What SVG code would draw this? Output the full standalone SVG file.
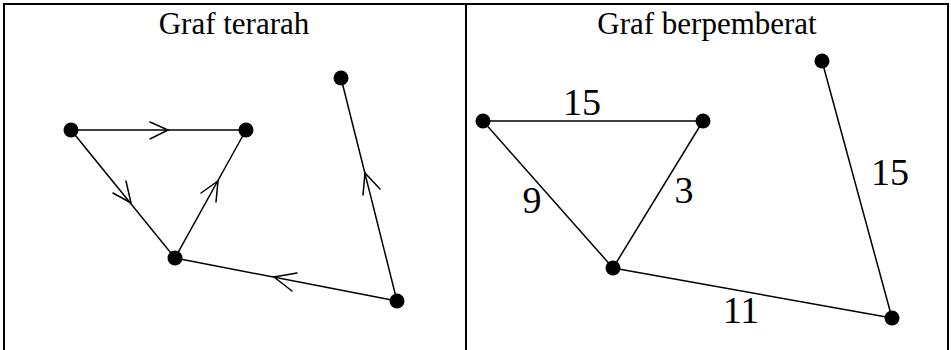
<svg xmlns="http://www.w3.org/2000/svg" width="951" height="350" viewBox="0 0 951 350">
<style>
.border{stroke:#000;stroke-width:2;fill:none}
.edge{stroke:#000;stroke-width:1.5;fill:none}
.chev{stroke:#000;stroke-width:1.5;fill:none;stroke-linecap:round;stroke-linejoin:miter}
.node{fill:#000}
.title{font-family:"Liberation Serif","Times New Roman",serif;font-size:31px;fill:#000;text-anchor:middle}
.lbl{font-family:"Liberation Serif","Times New Roman",serif;font-size:38px;fill:#000;text-anchor:middle}
</style>
<rect width="951" height="350" fill="#fff"/>
<g id="table">
<path class="border" d="M4,350 V4 H948 V350 M466,4 V350"/>
</g>
<text class="title" x="234" y="34">Graf terarah</text>
<text class="title" x="707" y="34">Graf berpemberat</text>
<g id="connectors">
<line class="edge" x1="71" y1="130" x2="246" y2="130"/>
<line class="edge" x1="71" y1="130" x2="175" y2="258"/>
<line class="edge" x1="175" y1="258" x2="246" y2="130"/>
<line class="edge" x1="175" y1="258" x2="397" y2="301"/>
<line class="edge" x1="397" y1="301" x2="341" y2="78"/>
<polyline class="chev" points="150,122 168,130 150,139"/>
<polyline class="chev" points="126,181 131,203 113,193"/>
<polyline class="chev" points="216,202 218,181 201,193"/>
<polyline class="chev" points="363,195 365,173 380,189"/>
<polyline class="chev" points="297,273 274,277 292,291"/>
<line class="edge" x1="483" y1="121" x2="703" y2="121"/>
<line class="edge" x1="483" y1="121" x2="613" y2="268"/>
<line class="edge" x1="703" y1="121" x2="613" y2="268"/>
<line class="edge" x1="613" y1="268" x2="892" y2="318"/>
<line class="edge" x1="822" y1="61" x2="892" y2="318"/>
</g>
<g id="nA"><circle class="node" cx="71" cy="130" r="7.5"/></g>
<g id="nB"><circle class="node" cx="246" cy="130" r="7.5"/></g>
<g id="nC"><circle class="node" cx="175" cy="258" r="7.5"/></g>
<g id="nD"><circle class="node" cx="341" cy="78" r="7.5"/></g>
<g id="nE"><circle class="node" cx="397" cy="301" r="7.5"/></g>
<g id="nF"><circle class="node" cx="483" cy="121" r="7.5"/></g>
<g id="nG"><circle class="node" cx="703" cy="121" r="7.5"/></g>
<g id="nH"><circle class="node" cx="613" cy="268" r="7.5"/></g>
<g id="nI"><circle class="node" cx="822" cy="61" r="7.5"/></g>
<g id="nJ"><circle class="node" cx="892" cy="318" r="7.5"/></g>
<g id="labels">
<text class="lbl" x="582" y="115">15</text>
<text class="lbl" x="532" y="213">9</text>
<text class="lbl" x="684" y="203">3</text>
<text class="lbl" x="890" y="185">15</text>
<text class="lbl" x="741" y="323">11</text>
</g>
</svg>
